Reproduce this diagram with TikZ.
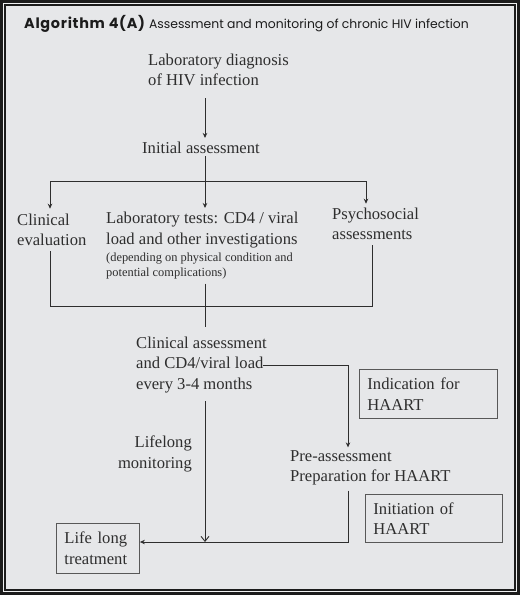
\documentclass[tikz,border=0pt]{standalone}
\usepackage{fontspec}
\setmainfont{Liberation Serif}
\newfontfamily\headfont{Poppins}
\usetikzlibrary{arrows.meta}
\usetikzlibrary{positioning}
\definecolor{bg}{HTML}{E6E7E9}
\definecolor{ink}{HTML}{2E2E2E}
\definecolor{rim}{HTML}{1C1C1C}
\tikzset{
  txt/.style = {text=ink, inner sep=0pt, align=left, font=\fontsize{16.6}{20.5}\selectfont},
  small/.style = {text=ink, inner sep=0pt, align=left, font=\fontsize{12.4}{15}\selectfont},
  box/.style = {txt, draw=ink!80, line width=0.9pt, anchor=north west, inner sep=0pt},
  line/.style = {draw=ink, line width=0.9pt},
  tip/.style = {line, -{Stealth[length=5pt, width=4.5pt]}},
  vtip/.style = {line, -{Straight Barb[length=5pt, width=8pt]}},
}

\begin{document}
\begin{tikzpicture}[x=1pt, y=-1pt]
	% frame
	\useasboundingbox (0,0) rectangle (520,595);
	\fill[rim] (0,0) rectangle (520,595);
	\fill[bg!60!white] (3,3) rectangle (517,592);
	\fill[rim] (4,4) rectangle (515.5,590.5);
	\fill[bg] (6,6) rectangle (514,588.5);

	\node[anchor=base west, inner sep=0pt, text=rim, font=\headfont] (title) at (24,28)
		{{\fontsize{14.4}{15}\selectfont\bfseries\addfontfeature{LetterSpace=5}Algorithm 4(A)}\hspace{4pt}{\fontsize{12.4}{15}\selectfont Assessment and monitoring of chronic HIV infection}};

	\node[txt, anchor=west] (diag) at (148,70) {Laboratory diagnosis\\of HIV infection};
	\node[txt, anchor=west] (init) at (142,148) {Initial assessment};

	\node[txt, anchor=west] (clin) at (17,230) {Clinical\\evaluation};
	\node[txt, anchor=west] (lab) at (106,230) {Laboratory tests: CD4 / viral\\load and other investigations};
	\node[small, anchor=north west] (labnote) at ([yshift=-5pt]lab.south west) {(depending on physical condition and\\potential complications)};
	\node[txt, anchor=west] (psy) at (332,224) {Psychosocial\\assessments};

	\node[txt, anchor=west] (mon) at (136,365) {Clinical assessment\\and CD4/viral load\\every 3-4 months};
	\node[txt, anchor=east, align=right] (life) at (192,454) {Lifelong\\monitoring};
	\node[txt, anchor=west] (pre) at (290,468) {Pre-assessment\\Preparation for HAART};

	\node[box, minimum width=138pt, minimum height=49pt, text width=122pt, inner xsep=8pt] (ind) at (359,369) {Indication for\\HAART};
	\node[box, minimum width=137pt, minimum height=48pt, text width=121pt, inner xsep=8pt] (ini) at (365,494) {Initiation of\\HAART};
	\node[box, minimum width=83pt, minimum height=50pt, text width=67pt, inner xsep=8pt] (ltt) at (56,523) {Life long\\treatment};

	\coordinate (spine) at (205,181);
	\coordinate (left) at (50,181);
	\coordinate (right) at (366,181);
	\coordinate (bl) at (50,306);
	\coordinate (br) at (372,306);
	\coordinate (turn) at (348,365);
	\coordinate (join) at (205,542);

	\draw[tip] ([yshift=-12pt]diag.south -| spine) -- ([yshift=4pt]init.north -| spine);
	\draw[line] ([yshift=-2pt]init.south -| spine) -- (spine);
	\draw[line] (left) -- (right);
	\draw[tip] (left) -- ([yshift=5pt]clin.north -| left);
	\draw[tip] (spine) -- ([yshift=4pt]lab.north -| spine);
	\draw[tip] (right) -- ([yshift=4pt]psy.north -| right);

	\draw[line] ([yshift=-5pt]clin.south -| bl) -- (bl) -- (br) -- ([yshift=-5pt]psy.south -| br);
	\draw[line] ([yshift=-4pt]labnote.south -| spine) -- ([yshift=10pt]mon.north -| spine);

	\draw[tip] ([xshift=-4pt]mon.east) -- (turn) -- ([yshift=3pt]pre.north -| turn);
	\draw[vtip] ([yshift=-8pt]mon.south -| spine) -- (join);
	\draw[tip] ([yshift=-5pt]pre.south -| turn) -- (turn |- join) -- (join -| ltt.east);
\end{tikzpicture}
\end{document}
